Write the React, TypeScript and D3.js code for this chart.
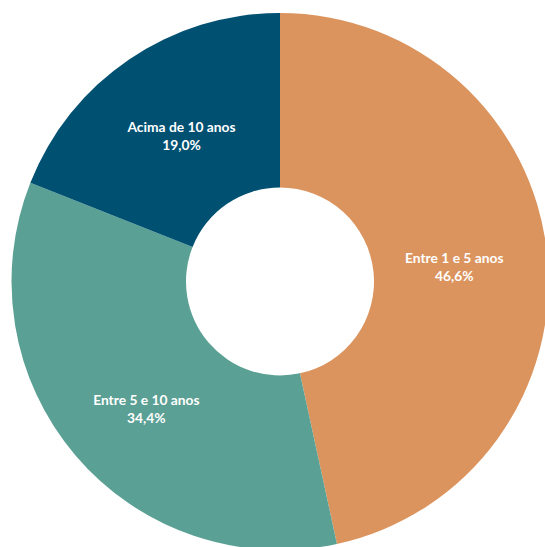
import React from "react";
import * as d3 from "d3";

const categories = ["Entre 1 e 5 anos", "Entre 5 e 10 anos", "Acima de 10 anos"];
const values = [46.6, 34.4, 19.0];
const labels = ["46,6%", "34,4%", "19,0%"];
const colors = ["#DB945E", "#5BA094", "#005072"];
const labelNudge = [
  [0, 3],
  [0, 13],
  [0, -2],
];

const W = 545;
const H = 547;
const cx = 280;
const cy = 281.5;
const outerR = 268.5;
const innerR = 94;

export default function App() {
  const pie = d3.pie<number>().sort(null).value((d) => d)(values);
  const arc = d3.arc<d3.PieArcDatum<number>>().innerRadius(innerR).outerRadius(outerR);
  const labelArc = d3
    .arc<d3.PieArcDatum<number>>()
    .innerRadius((innerR + outerR) / 2 - 6)
    .outerRadius((innerR + outerR) / 2 - 6);
  return (
    <svg
      width={W}
      height={H}
      style={{ position: "absolute", left: 0, top: 0, display: "block", background: "#fff" }}
    >
      <g transform={`translate(${cx},${cy})`}>
        {pie.map((p, i) => (
          <path key={i} d={arc(p) || ""} fill={colors[i]} />
        ))}
        {pie.map((p, i) => {
          const [x0, y0] = labelArc.centroid(p);
          const x = x0 + labelNudge[i][0];
          const y = y0 + labelNudge[i][1];
          return (
            <text
              key={"t" + i}
              x={x}
              y={y}
              textAnchor="middle"
              fill="#fff"
              fontFamily="Lato, 'Open Sans', sans-serif"
              fontWeight="bold"
              fontSize={13.8}
            >
              <tspan x={x} dy={-3}>{categories[i]}</tspan>
              <tspan x={x} dy={18}>{labels[i]}</tspan>
            </text>
          );
        })}
      </g>
    </svg>
  );
}
